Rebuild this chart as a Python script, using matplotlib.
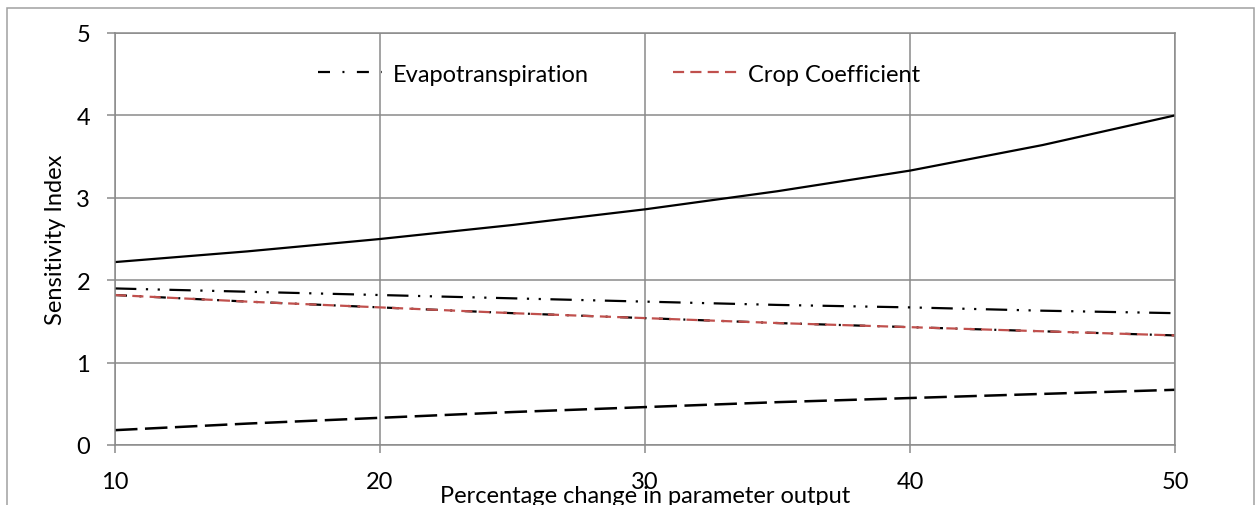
import matplotlib
matplotlib.use("Agg")
import matplotlib.pyplot as plt
from matplotlib.patches import Rectangle

plt.rcParams['font.family'] = ['Lato', 'DejaVu Sans']

# Data
x_pct = [10, 15, 20, 25, 30, 35, 40, 45, 50]
series_solid = [2.22, 2.35, 2.50, 2.67, 2.86, 3.08, 3.33, 3.64, 4.00]
series_dashdotdot = [1.90, 1.86, 1.82, 1.78, 1.74, 1.70, 1.67, 1.63, 1.60]
series_evapo = [1.82, 1.74, 1.67, 1.60, 1.54, 1.48, 1.43, 1.38, 1.33]
series_crop = [1.82, 1.74, 1.67, 1.60, 1.54, 1.48, 1.43, 1.38, 1.33]
series_longdash = [0.18, 0.26, 0.33, 0.40, 0.46, 0.52, 0.57, 0.62, 0.67]
x_ticks = [10, 20, 30, 40, 50]
y_ticks = [0, 1, 2, 3, 4, 5]
label_evapo = "Evapotranspiration"
label_crop = "Crop Coefficient"
x_label = "Percentage change in parameter output"
y_label = "Sensitivity Index"

W, H = 1255, 506
fig = plt.figure(figsize=(W / 100, H / 100), dpi=100)
ax = fig.add_axes([115 / W, (H - 446) / H, 1060 / W, 412 / H])

grid_c = '#8a8a8a'
fs = 17

ax.plot(x_pct, series_solid, color='black', lw=1.6, solid_capstyle='butt')
ax.plot(x_pct, series_dashdotdot, color='black', lw=1.6,
        linestyle=(0, (9.6, 4.3, 1.0, 4.3, 1.0, 4.3)))
ax.plot(x_pct, series_evapo, color='black', lw=1.6,
        linestyle=(0, (5.4, 5.6, 0.9, 5.6)), label=label_evapo)
ax.plot(x_pct, series_crop, color='#C0504D', lw=1.6,
        linestyle=(0, (5.0, 2.8)), label=label_crop)
ax.plot(x_pct, series_longdash, color='black', lw=1.8,
        linestyle=(0, (9.0, 3.0)))

ax.set_xlim(10, 50)
ax.set_ylim(0, 5)
ax.set_xticks(x_ticks)
ax.set_yticks(y_ticks)
ax.grid(True, color=grid_c, lw=1.1)
ax.set_axisbelow(True)
for s in ax.spines.values():
    s.set_color(grid_c)
    s.set_linewidth(1.1)
ax.tick_params(axis='both', colors=grid_c, length=6, width=1.1, labelcolor='black',
               labelsize=fs)
ax.tick_params(axis='y', pad=12)
ax.tick_params(axis='x', pad=13)

ax.set_xlabel(x_label, fontsize=fs, va='baseline')
ax.xaxis.set_label_coords(0.5, -(503 - 446) / 412)
ax.set_ylabel(y_label, fontsize=fs, va='center')
ax.yaxis.set_label_coords((56 - 115) / 1060, 0.5)

leg = ax.legend(loc='center', bbox_to_anchor=((619 - 115) / 1060, (446 - 75) / 412),
                ncol=2, frameon=False, fontsize=fs, handlelength=2.72,
                handletextpad=0.45, columnspacing=3.6)

fig.patches.append(Rectangle((7 / W, -0.1), 1247 / W, 1.1 - 9 / H,
                             transform=fig.transFigure, fill=False,
                             edgecolor='#a0a0a0', lw=1.1, clip_on=False))

fig.savefig('out.png', dpi=100)
